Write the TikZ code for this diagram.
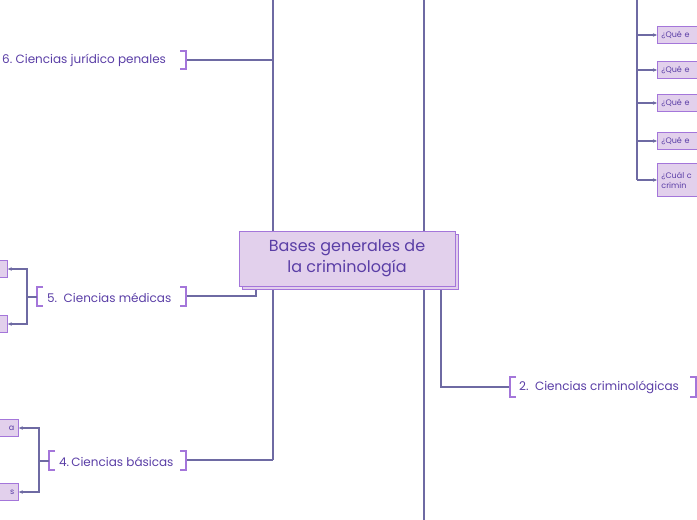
\documentclass[tikz,border=0pt]{standalone}
\usepackage{fontspec}
\setmainfont{Poppins}
\usetikzlibrary{arrows.meta}
\definecolor{ln}{HTML}{6E6AA3}
\definecolor{bx}{HTML}{E2D0EC}
\definecolor{bd}{HTML}{A476DA}
\definecolor{tx}{HTML}{5A3EA6}
\tikzset{x=1pt,y=-1pt,
 conn/.style={draw=ln,line width=1.2pt},
 arr/.style={conn,-{Stealth[length=4pt,width=3.5pt]}},
 brk/.style={draw=bd,line width=1.8pt},
 lab/.style={text=tx,font=\fontsize{12}{14}\selectfont,anchor=west,inner sep=0},
 small/.style={fill=bx,draw=bd,line width=0.8pt,text=tx,font=\fontsize{8}{10}\selectfont,anchor=west,inner xsep=4pt,inner ysep=2pt}}
\begin{document}
\begin{tikzpicture}
\useasboundingbox (0,0) rectangle (697,520);
\clip (0,0) rectangle (697,520);
\coordinate (t1) at (273,0); \coordinate (t2) at (424,0);
\coordinate (b1) at (424,520);
\draw[conn] (t1) -- (273,460);
\draw[conn] (t2) -- (b1);
\draw[conn] (441,286) |- (510,387);
\draw[conn] (256,286) |- (187,296);
\draw[conn] (273,60) -- (187,60);
\draw[conn] (273,460) -- (187,460);
% central
\fill[bx,draw=bd,line width=1pt] (242,234) rectangle (458,289);
\node[fill=bx,draw=bd,line width=1pt,minimum width=216pt,minimum height=55pt,text=tx,align=center,font=\fontsize{16}{21}\selectfont] (c) at (347,258.5) {Bases generales de\\la criminología};
% brackets
\draw[brk] (180,51) -- (186,51) -- (186,69) -- (180,69);
\draw[brk] (180,287) -- (186,287) -- (186,306) -- (180,306);
\draw[brk] (43,287) -- (37,287) -- (37,306) -- (43,306);
\draw[brk] (180,451) -- (186,451) -- (186,470) -- (180,470);
\draw[brk] (55,451) -- (49,451) -- (49,470) -- (55,470);
\draw[brk] (516,377) -- (510,377) -- (510,397) -- (516,397);
\draw[brk] (690,377) -- (696,377) -- (696,397) -- (690,397);
\node[lab] (n6) at (2,60.5) {6.\ Ciencias jurídico penales};
\node[lab] (n5) at (47,297.5) {5.\ \ Ciencias médicas};
\node[lab] (n4) at (59,461.5) {4.\,Ciencias básicas};
\node[lab] (n2) at (519,387.5) {2.\ \ Ciencias criminológicas};
% left small boxes
\node[small,minimum width=30pt,minimum height=17pt] (m1) at (-23,269) {};
\node[small,minimum width=30pt,minimum height=17pt] (m2) at (-23,324) {};
\node[small,text width=32pt,align=right,minimum height=17pt] (k1) at (-22,428) {a};
\node[small,text width=32pt,align=right,minimum height=17pt] (k2) at (-22,492) {s};
\draw[conn] (37,297) -- (27,297);
\draw[arr] (27,297) |- (m1.east);
\draw[arr] (27,297) |- (m2.east);
\draw[conn] (49,461) -- (39,461);
\draw[arr] (39,461) |- (k1.east);
\draw[arr] (39,461) |- (k2.east);
% right column
\coordinate (rt) at (637,0);
\draw[conn] (rt) -- (637,180);
\foreach \y/\nm in {35/q1,70/q2,103/q3,141/q4}{
 \node[small,text width=60pt,align=left,minimum height=17pt] (\nm) at (657,\y) {¿Qué e};
 \draw[arr] (637,\y) -- (\nm.west);
}
\node[small,text width=60pt,align=left,minimum height=33pt] (q5) at (657,180) {¿Cuál c\\crimin};
\draw[arr] (637,180) -- (q5.west);
\end{tikzpicture}
\end{document}
